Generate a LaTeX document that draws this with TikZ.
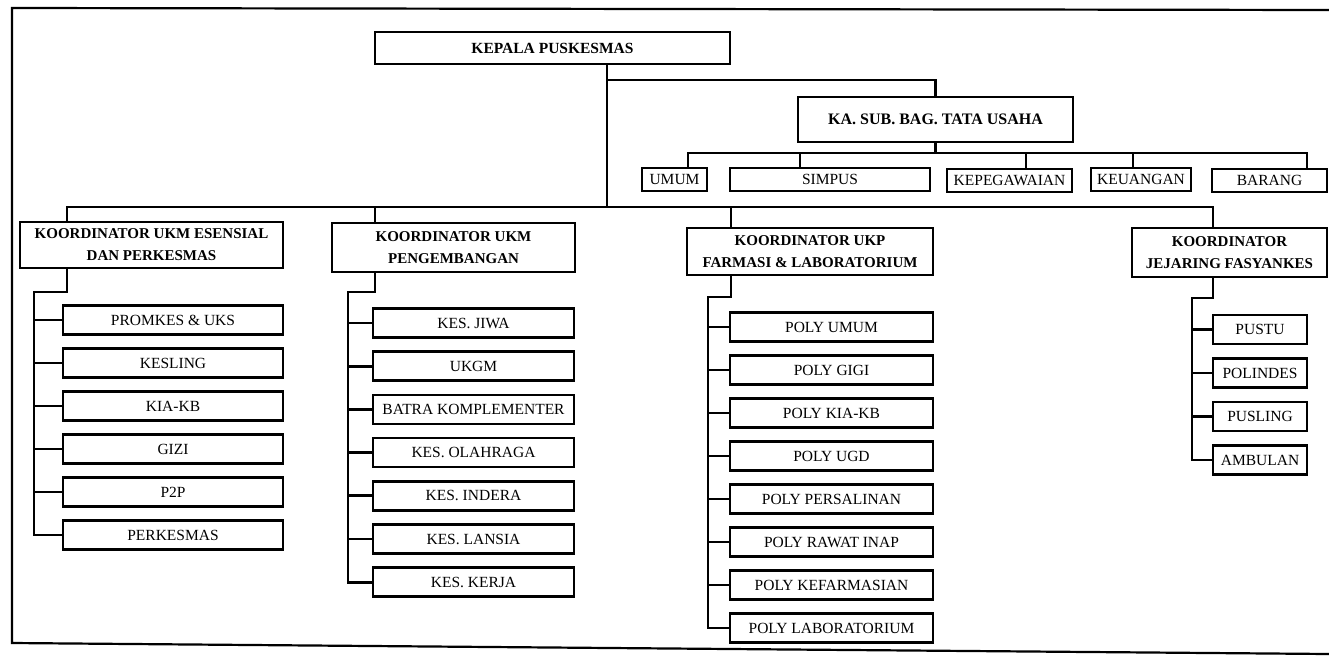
\documentclass[tikz,border=0pt]{standalone}
\usepackage{fontspec}
\setmainfont{Liberation Serif}
\begin{document}
\begin{tikzpicture}[x=1pt,y=-1pt,
  box/.style={draw, line width=2.6pt, inner sep=0pt, align=center, font=\fontsize{15.5}{18}\selectfont},
  hbox/.style={box, font=\fontsize{15}{22}\selectfont\bfseries},
  link/.style={line width=2.8pt},
  frame/.style={line width=2.2pt}]
\useasboundingbox (0,0) rectangle (1329,656);
\draw[frame] (1329,10) -- (12,8) -- (12,643) -- (1329,654);

% top
\node[hbox, font=\fontsize{15.5}{16}\selectfont\bfseries, minimum width=355pt, minimum height=32pt] (kepala) at (552.5,48) {KEPALA PUSKESMAS};
\node[hbox, font=\fontsize{16}{18}\selectfont\bfseries, minimum width=275pt, minimum height=45pt] (kasub) at (935.5,119.5) {KA. SUB. BAG. TATA USAHA};

\node[box, minimum width=65pt, minimum height=23pt] (umum) at (674.5,179.5) {UMUM};
\node[box, minimum width=200pt, minimum height=23pt] (simpus) at (830,179.5) {SIMPUS};
\node[box, minimum width=125pt, minimum height=23pt] (kepeg) at (1009.5,180.5) {KEPEGAWAIAN};
\node[box, minimum width=100pt, minimum height=23pt] (keuangan) at (1141,179.5) {KEUANGAN};
\node[box, minimum width=115pt, minimum height=23pt] (barang) at (1269.5,180.5) {BARANG};

% coordinators
\node[hbox, minimum width=263pt, minimum height=46pt] (esensial) at (151.5,245) {KOORDINATOR UKM ESENSIAL\\DAN PERKESMAS};
\node[hbox, minimum width=243pt, minimum height=49pt] (peng) at (453.5,247.5) {KOORDINATOR UKM\\PENGEMBANGAN};
\node[hbox, minimum width=246pt, minimum height=47pt] (ukp) at (810,251.5) {KOORDINATOR UKP\\FARMASI \& LABORATORIUM};
\node[hbox, minimum width=195pt, minimum height=49pt] (jejaring) at (1229.5,252.5) {KOORDINATOR\\JEJARING FASYANKES};

% esensial children
\begin{scope}[every node/.append style={box, minimum width=220pt, minimum height=29pt}]
\node (promkes) at (173,320) {PROMKES \& UKS};
\node (kesling) at (173,363) {KESLING};
\node (kiakb) at (173,406) {KIA-KB};
\node (gizi) at (173,449) {GIZI};
\node (ptp) at (173,492) {P2P};
\node (perkesmas) at (173,535) {PERKESMAS};
\end{scope}

% pengembangan children
\begin{scope}[every node/.append style={box, minimum width=201pt, minimum height=29pt}]
\node (jiwa) at (473.5,323) {KES. JIWA};
\node (ukgm) at (473.5,366.2) {UKGM};
\node (batra) at (473.5,409.4) {BATRA KOMPLEMENTER};
\node (olahraga) at (473.5,452.6) {KES. OLAHRAGA};
\node (indera) at (473.5,495.8) {KES. INDERA};
\node (lansia) at (473.5,539) {KES. LANSIA};
\node (kerja) at (473.5,582.2) {KES. KERJA};
\end{scope}

% ukp children
\begin{scope}[every node/.append style={box, minimum width=203pt, minimum height=29pt}]
\node (pumum) at (831.5,327) {POLY UMUM};
\node (pgigi) at (831.5,370) {POLY GIGI};
\node (pkia) at (831.5,413) {POLY KIA-KB};
\node (pugd) at (831.5,456) {POLY UGD};
\node (ppers) at (831.5,499) {POLY PERSALINAN};
\node (prawat) at (831.5,542) {POLY RAWAT INAP};
\node (pfarm) at (831.5,585) {POLY KEFARMASIAN};
\node (plab) at (831.5,628) {POLY LABORATORIUM};
\end{scope}

% jejaring children
\begin{scope}[every node/.append style={box, minimum width=94pt, minimum height=29pt}]
\node (pustu) at (1260,329.5) {PUSTU};
\node (polindes) at (1260,373) {POLINDES};
\node (pusling) at (1260,416.5) {PUSLING};
\node (ambulan) at (1260,460) {AMBULAN};
\end{scope}

% top connectors
\coordinate (k1) at (607,80);
\coordinate (b1) at (67,207);
\coordinate (b2) at (375,207);
\coordinate (b3) at (731,207);
\coordinate (b4) at (1213,207);
\draw[link] (kepala.south -| k1) -- (k1 |- b1);
\draw[link] (k1) -| (kasub.north);

\coordinate (s1) at (688,153);
\coordinate (s2) at (800,153);
\coordinate (s3) at (1026,153);
\coordinate (s4) at (1133,153);
\coordinate (s5) at (1307,153);
\draw[link] (kasub.south) -- (kasub.south |- s1);
\draw[link] (s1 |- umum.north) -- (s1) -- (s5) -- (s5 |- barang.north);
\draw[link] (s2) -- (s2 |- simpus.north);
\draw[link] (s3) -- (s3 |- kepeg.north);
\draw[link] (s4) -- (s4 |- keuangan.north);

\draw[link] (b1 |- esensial.north) -- (b1) -- (b4) -- (b4 |- jejaring.north);
\draw[link] (b2) -- (b2 |- peng.north);
\draw[link] (b3) -- (b3 |- ukp.north);

% column rails
\coordinate (e1) at (67,292);
\coordinate (e2) at (34,292);
\draw[link] (esensial.south -| e1) -- (e1) -- (e2) -- (e2 |- perkesmas.west) -- (perkesmas.west);
\foreach \n in {promkes,kesling,kiakb,gizi,ptp}
  \draw[link] (e2 |- \n.west) -- (\n.west);

\coordinate (g1) at (375,292);
\coordinate (g2) at (348,292);
\draw[link] (peng.south -| g1) -- (g1) -- (g2) -- (g2 |- kerja.west) -- (kerja.west);
\foreach \n in {jiwa,ukgm,batra,olahraga,indera,lansia}
  \draw[link] (g2 |- \n.west) -- (\n.west);

\coordinate (u1) at (731,297);
\coordinate (u2) at (708,297);
\draw[link] (ukp.south -| u1) -- (u1) -- (u2) -- (u2 |- plab.west) -- (plab.west);
\foreach \n in {pumum,pgigi,pkia,pugd,ppers,prawat,pfarm}
  \draw[link] (u2 |- \n.west) -- (\n.west);

\coordinate (j1) at (1213,298);
\coordinate (j2) at (1192,298);
\draw[link] (jejaring.south -| j1) -- (j1) -- (j2) -- (j2 |- ambulan.west) -- (ambulan.west);
\foreach \n in {pustu,polindes,pusling}
  \draw[link] (j2 |- \n.west) -- (\n.west);
\end{tikzpicture}
\end{document}
